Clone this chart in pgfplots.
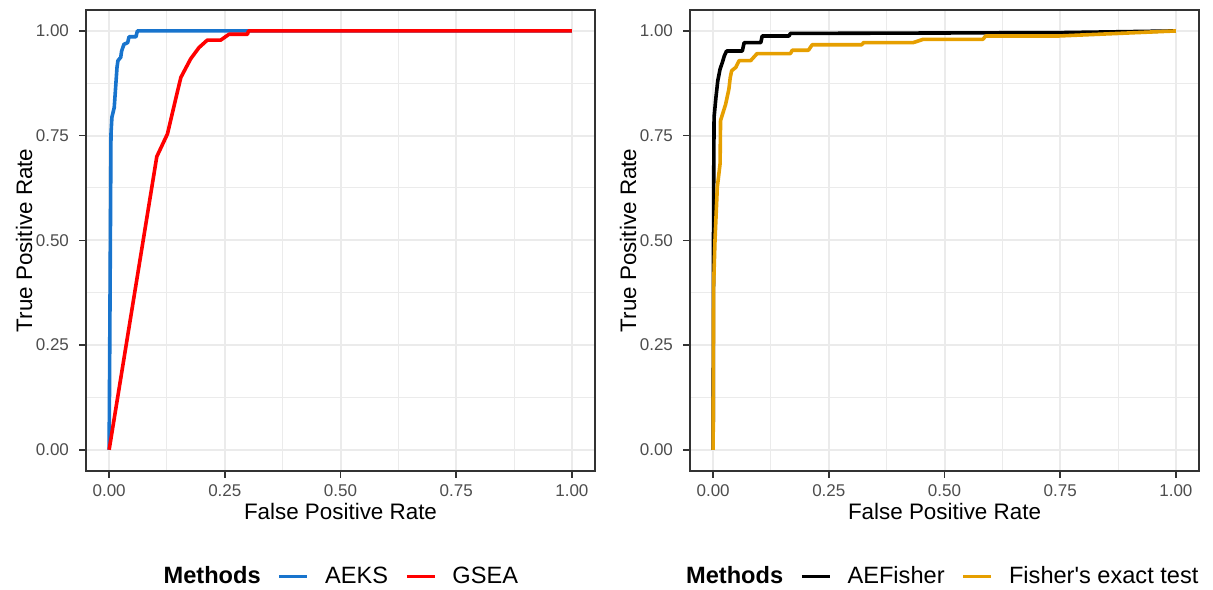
\documentclass[border=0pt]{standalone}
\usepackage{fontspec}
\setmainfont{Liberation Sans}
\usepackage{pgfplots}
\pgfplotsset{compat=1.18}
\definecolor{cBlue}{HTML}{1874CD}
\definecolor{cRed}{HTML}{FF0000}
\definecolor{cOrange}{HTML}{E69F00}
\definecolor{cGrid}{HTML}{EBEBEB}
\definecolor{cFrame}{HTML}{333333}
\definecolor{cTick}{HTML}{4D4D4D}
% straight apostrophe, past the TeX ligature mapping
\newcommand{\sq}{\XeTeXglyph\numexpr\XeTeXcharglyph"27\relax}

\pgfplotsset{
  rocpanel/.style={
    scale only axis, width=254.5pt, height=230.35pt,
    xmin=-0.05, xmax=1.05, ymin=-0.05, ymax=1.05,
    xtick={0,0.25,0.5,0.75,1}, ytick={0,0.25,0.5,0.75,1},
    xticklabels={0.00,0.25,0.50,0.75,1.00},
    yticklabels={0.00,0.25,0.50,0.75,1.00},
    minor xtick={0.125,0.375,0.625,0.875},
    minor ytick={0.125,0.375,0.625,0.875},
    grid=both,
    major grid style={cGrid, line width=1pt},
    minor grid style={cGrid, line width=0.5pt},
    axis line style={cFrame, line width=0.8pt},
    tick style={cFrame, line width=0.8pt},
    tick align=outside, major tick length=3.5pt, minor tick length=0pt,
    xtick pos=left, ytick pos=left,
    /pgf/number format/assume math mode=true,
    tick label style={font=\fontsize{8.5}{10}\selectfont, text=cTick},
    yticklabel style={xshift=-1.5pt},
    label style={font=\fontsize{11.2}{13}\selectfont},
    xlabel={False Positive Rate}, ylabel={True Positive Rate},
    xlabel style={at={(axis description cs:0.5,-0.107)}, anchor=base},
    ylabel style={at={(axis description cs:-0.106,0.5)}, anchor=base},
    legend columns=-1,
    legend style={draw=none, fill=none, inner sep=0pt,
      font=\fontsize{11.8}{14}\selectfont, nodes={inner sep=0pt},
      /tikz/every odd column/.append style={column sep=8pt},
      /tikz/every even column/.append style={column sep=8.5pt}},
    legend image code/.code={\draw[#1, line width=1.7pt] (0pt,0pt) -- (14pt,0pt);},
    every axis plot/.append style={line width=1.8pt, line join=round},
  }
}

\begin{document}
\begin{tikzpicture}
\path[use as bounding box] (0pt,0pt) rectangle (606.5pt,294.5pt);

% left panel: AEKS vs GSEA
\begin{axis}[rocpanel, at={(43pt,59.15pt)}, anchor=south west,
  legend style={at={(0.485,-0.2297)}, anchor=center}]
\addlegendimage{empty legend}
\addlegendentry{\textbf{Methods}}
\addplot[cBlue, no marks] coordinates {
  (0,0) (0.004,0.754) (0.006,0.794) (0.011,0.817) (0.014,0.865)
  (0.017,0.913) (0.019,0.929) (0.025,0.937) (0.027,0.952) (0.032,0.968)
  (0.040,0.972) (0.043,0.986) (0.058,0.986) (0.061,1.0) (1,1)
};
\addlegendentry{AEKS}
\addplot[cRed, no marks] coordinates {
  (0,0) (0.103,0.70) (0.126,0.754) (0.148,0.857) (0.155,0.889)
  (0.176,0.933) (0.194,0.960) (0.212,0.978) (0.241,0.978) (0.259,0.992)
  (0.299,0.992) (0.301,1.0) (1,1)
};
\addlegendentry{GSEA}
\end{axis}

% right panel: AEFisher vs Fisher's exact test
\begin{axis}[rocpanel, at={(345pt,59.15pt)}, anchor=south west,
  legend style={at={(0.48,-0.2297)}, anchor=center}]
\addlegendimage{empty legend}
\addlegendentry{\textbf{Methods}}
\addplot[black, no marks] coordinates {
  (0,0) (0.001,0.60) (0.002,0.794) (0.006,0.841) (0.010,0.881)
  (0.015,0.909) (0.020,0.925) (0.024,0.940) (0.029,0.952) (0.063,0.952)
  (0.067,0.972) (0.103,0.972) (0.106,0.988) (0.164,0.988) (0.167,0.994)
  (0.750,0.996) (1,1)
};
\addlegendentry{AEFisher}
\addplot[cOrange, no marks] coordinates {
  (0,0) (0.001,0.39) (0.004,0.50) (0.009,0.627) (0.015,0.683)
  (0.016,0.786) (0.027,0.825) (0.034,0.861) (0.037,0.889) (0.040,0.905)
  (0.049,0.913) (0.056,0.929) (0.081,0.929) (0.095,0.946) (0.167,0.946)
  (0.171,0.954) (0.206,0.954) (0.214,0.967) (0.321,0.967) (0.325,0.972)
  (0.432,0.972) (0.454,0.980) (0.583,0.980) (0.589,0.988) (0.748,0.988)
  (1,1)
};
\addlegendentry{Fisher\sq s exact test}
\end{axis}
\end{tikzpicture}
\end{document}
